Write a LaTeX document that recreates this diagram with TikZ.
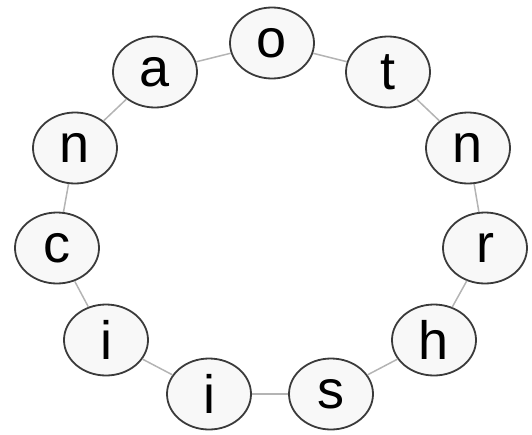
\documentclass[tikz,border=0pt]{standalone}
\usepackage{fontspec}
\setmainfont{Liberation Sans}
\usetikzlibrary{shapes.geometric}
\definecolor{ringline}{HTML}{B4B4B4}
\definecolor{nodeline}{HTML}{3A3A3A}
\definecolor{nodefill}{HTML}{F8F8F8}
\begin{document}
\begin{tikzpicture}[x=1pt,y=-1pt,
  letter/.style={ellipse,draw=nodeline,line width=1.8pt,fill=nodefill,
    minimum width=84pt,minimum height=71pt,inner sep=0pt,
    font=\fontsize{54}{54}\selectfont},
  ring/.style={draw=ringline,line width=1.5pt}]
\useasboundingbox (0,0) rectangle (532,434);
\node[letter] (o)  at (272,43)  {o};
\node[letter] (t)  at (388,72)  {t};
\node[letter] (nr) at (468,148) {n};
\node[letter] (r)  at (485,248) {r};
\node[letter] (h)  at (434,340) {h};
\node[letter] (s)  at (331,394) {s};
\node[letter] (ib) at (209,394) {i};
\node[letter] (il) at (106,340) {i};
\node[letter] (c)  at (57,248)  {c};
\node[letter] (nl) at (75,148)  {n};
\node[letter] (a)  at (155,72)  {a};
\foreach \u/\v in {o/t,t/nr,nr/r,r/h,h/s,s/ib,ib/il,il/c,c/nl,nl/a,a/o}
  \draw[ring] (\u) -- (\v);
\end{tikzpicture}
\end{document}
